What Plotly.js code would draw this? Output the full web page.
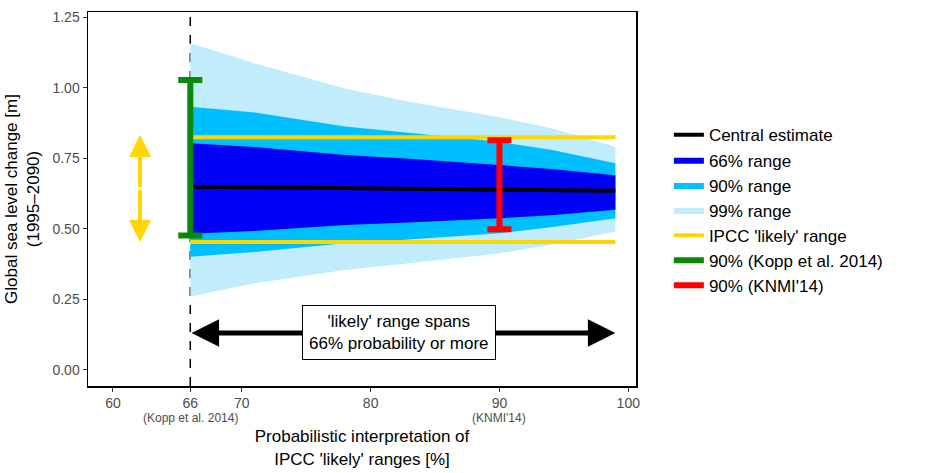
<!DOCTYPE html>
<html><head><meta charset="utf-8">
<script src="https://cdn.plot.ly/plotly-3.0.1.min.js"></script>
<style>body{margin:0}</style></head>
<body><div id="chart" style="width:933px;height:473px"></div>
<script>
const prob = [66, 71, 78, 83, 90, 94, 99];
const central = [0.649, 0.647, 0.643, 0.641, 0.639, 0.637, 0.635];
const up66 = [0.803, 0.790, 0.761, 0.748, 0.726, 0.712, 0.690];
const lo66 = [0.482, 0.492, 0.513, 0.522, 0.537, 0.548, 0.567];
const up90 = [0.932, 0.912, 0.862, 0.840, 0.808, 0.780, 0.732];
const lo90 = [0.401, 0.418, 0.449, 0.462, 0.484, 0.505, 0.537];
const up99 = [1.157, 1.086, 0.997, 0.950, 0.895, 0.856, 0.791];
const lo99 = [0.260, 0.307, 0.354, 0.378, 0.413, 0.443, 0.490];
const ipccRange = [0.453, 0.824];
const kopp = [66, 0.476, 1.027];
const knmi = [90, 0.498, 0.814];

function band(up, lo, color, name, rank) {
  return {
    type: 'scatter', mode: 'lines', fill: 'toself', fillcolor: color,
    line: { width: 0 }, name, legendrank: rank,
    x: prob.concat(prob.slice().reverse()),
    y: up.concat(lo.slice().reverse()), hoverinfo: 'skip'
  };
}
const xEnds = [prob[0], prob[prob.length - 1]];
function bar(v, color, name, rank) {
  return [{
    type: 'scatter', mode: 'markers', x: [v[0]], y: [(v[1] + v[2]) / 2],
    marker: { size: 0.1, color }, showlegend: false,
    error_y: { type: 'data', symmetric: false, array: [v[2] - (v[1] + v[2]) / 2],
      arrayminus: [(v[1] + v[2]) / 2 - v[1]], color, thickness: 6, width: 12 }
  }, {
    type: 'scatter', mode: 'lines', x: [null], y: [null], name, legendrank: rank,
    line: { color, width: 6 }
  }];
}

const traces = [
  band(up99, lo99, '#c0ecfb', '99% range', 4),
  band(up90, lo90, '#00bfff', '90% range', 3),
  band(up66, lo66, '#0000f5', '66% range', 2),
  { type: 'scatter', mode: 'lines', x: prob, y: central, name: 'Central estimate',
    legendrank: 1, line: { color: 'black', width: 4 } },
  { type: 'scatter', mode: 'lines', x: xEnds, y: [ipccRange[1], ipccRange[1]],
    name: "IPCC 'likely' range", legendrank: 5, line: { color: '#ffd700', width: 4 } },
  { type: 'scatter', mode: 'lines', x: xEnds, y: [ipccRange[0], ipccRange[0]],
    showlegend: false, line: { color: '#ffd700', width: 4 } },
  ...bar(kopp, '#078a07', '90% (Kopp et al. 2014)', 6),
  ...bar(knmi, '#ff0000', "90% (KNMI'14)", 7)
];

const arrow = (x, y, ax, ay, color, w) => ({
  x, y, ax, ay, xref: 'x', yref: 'y', axref: 'x', ayref: 'y', text: '',
  showarrow: true, arrowhead: 2, arrowsize: 1.1, arrowwidth: w, arrowcolor: color
});
const mid = 0.643;
const layout = {
  width: 933, height: 473,
  margin: { l: 88, r: 297, t: 12, b: 87 },
  paper_bgcolor: 'white', plot_bgcolor: 'white',
  font: { family: 'Liberation Sans, Arial, sans-serif', size: 15, color: 'black' },
  xaxis: { range: [58.06, 100.6], tickvals: [60, 66, 70, 80, 90, 100], showgrid: false,
    zeroline: false, showline: true, mirror: true, linecolor: 'black', linewidth: 1.5,
    ticks: 'outside', ticklen: 4, tickcolor: '#333', tickfont: { color: '#4d4d4d', size: 14 },
    title: { text: "Probabilistic interpretation of<br>IPCC 'likely' ranges [%]", standoff: 20,
      font: { size: 17 } } },
  yaxis: { range: [-0.057, 1.268], tickvals: [0, 0.25, 0.5, 0.75, 1, 1.25],
    ticktext: ['0.00', '0.25', '0.50', '0.75', '1.00', '1.25'], showgrid: false,
    zeroline: false, showline: true, mirror: true, linecolor: 'black', linewidth: 1.5,
    ticks: 'outside', ticklen: 4, tickcolor: '#333', tickfont: { color: '#4d4d4d', size: 14 },
    title: { text: 'Global sea level change [m]<br>(1995–2090)', font: { size: 17 }, standoff: 8 } },
  legend: { x: 1.06, y: 0.47, yanchor: 'middle', font: { size: 17 }, tracegroupgap: 0,
    itemwidth: 30 },
  shapes: [{ type: 'line', x0: 66, x1: 66, y0: 0, y1: 1, yref: 'paper', layer: 'below',
    line: { color: 'black', width: 1.5, dash: 'dash' } }],
  annotations: [
    arrow(62.1, 0.832, 62.1, mid, '#ffd700', 4),
    arrow(62.1, 0.453, 62.1, mid, '#ffd700', 4),
    arrow(66.1, 0.131, 82.2, 0.131, 'black', 5),
    arrow(99, 0.131, 82.2, 0.131, 'black', 5),
    { x: 82.2, y: 0.131, xref: 'x', yref: 'y', showarrow: false,
      text: "'likely' range spans<br>66% probability or more", font: { size: 17 },
      bgcolor: 'white', bordercolor: 'black', borderwidth: 1, borderpad: 6 },
    { x: 66, y: 0, xref: 'x', yref: 'paper', yanchor: 'middle', yshift: -32, showarrow: false,
      text: '(Kopp et al. 2014)', font: { size: 12, color: '#4d4d4d' } },
    { x: 90, y: 0, xref: 'x', yref: 'paper', yanchor: 'middle', yshift: -32, showarrow: false,
      text: "(KNMI'14)", font: { size: 12, color: '#4d4d4d' } }
  ]
};
Plotly.newPlot('chart', traces, layout, { staticPlot: true });
</script></body></html>
